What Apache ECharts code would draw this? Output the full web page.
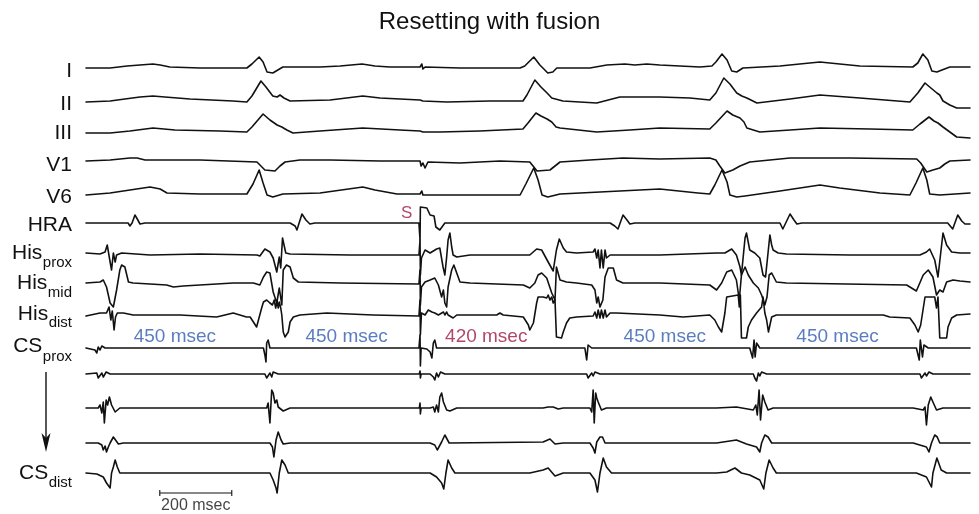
<!DOCTYPE html>
<html><head><meta charset="utf-8">
<script src="https://cdn.jsdelivr.net/npm/echarts@6/dist/echarts.min.js"></script>
<style>html,body{margin:0;padding:0;background:#fff}#c{width:979px;height:514px}</style>
</head><body><div id="c"></div>
<script>
// ---------------- DATA (time in msec, amplitude in arbitrary units, + = up) ----------------
const leadI = [[0,0],[67,0],[114,2],[150,3],[186,4],[206,3],[233,1],[317,0],[447,0],[461,4],[481,11],[492,6],[503,-4],[519,-5],[533,-2],[547,1],[650,1],[706,2],[767,4],[803,2],[844,1],[928,1],[933,4],[936,-1],[942,1],[1039,0],[1206,0],[1219,2],[1244,11],[1261,3],[1283,-5],[1297,-4],[1308,0],[1400,0],[1447,3],[1497,4],[1525,3],[1558,4],[1594,3],[1706,1],[1739,2],[1750,6],[1767,14],[1781,8],[1794,-3],[1808,-4],[1825,0],[1928,2],[1983,4],[2039,6],[2094,4],[2150,2],[2297,1],[2311,5],[2325,14],[2339,8],[2350,-3],[2364,-4],[2378,-2],[2400,1],[2456,1]];
const leadII = [[0,-1],[67,0],[108,2],[150,4],[186,5],[219,4],[289,2],[408,0],[447,-1],[461,5],[486,20],[500,14],[519,5],[531,4],[539,6],[550,3],[567,0],[678,1],[769,5],[817,3],[928,1],[933,3],[936,0],[1003,-1],[1122,0],[1214,0],[1225,6],[1247,21],[1264,14],[1281,8],[1294,3],[1325,0],[1419,-2],[1483,4],[1594,4],[1678,3],[1733,1],[1750,8],[1772,23],[1789,17],[1808,8],[1822,5],[1836,3],[1864,-2],[1956,2],[2039,6],[2150,3],[2289,-1],[2311,8],[2331,18],[2344,14],[2364,8],[2372,6],[2381,0],[2400,-4],[2419,-7],[2456,-7]];
const leadIII = [[0,-1],[67,-1],[122,1],[186,4],[247,2],[372,1],[447,0],[461,5],[492,18],[511,12],[531,7],[544,5],[558,2],[575,-1],[650,1],[769,4],[872,2],[928,1],[933,3],[936,0],[983,0],[1094,1],[1214,3],[1228,9],[1250,19],[1264,16],[1281,13],[1294,10],[1306,5],[1317,4],[1419,0],[1511,2],[1594,4],[1733,3],[1750,9],[1781,21],[1797,17],[1817,14],[1828,10],[1836,4],[1872,0],[1956,2],[2039,4],[2178,3],[2297,2],[2317,8],[2342,15],[2356,11],[2367,9],[2381,5],[2400,0],[2419,-5],[2456,-6]];
const leadV1 = [[0,-1],[67,0],[122,2],[142,2],[164,0],[317,0],[475,-2],[486,-6],[497,-10],[525,-11],[539,-6],[553,-2],[594,0],[678,0],[817,-1],[928,-1],[931,-6],[936,-3],[942,-8],[950,-2],[1039,-3],[1150,-1],[1233,-2],[1242,-6],[1253,-11],[1289,-10],[1303,-6],[1317,-2],[1400,0],[1492,2],[1594,1],[1733,2],[1750,0],[1761,-6],[1775,-13],[1797,-10],[1817,-6],[1844,-2],[1956,2],[2122,2],[2308,1],[2319,-3],[2336,-12],[2353,-10],[2372,-8],[2386,-4],[2400,-1],[2456,0]];
const leadV6 = [[0,-1],[67,1],[122,4],[178,7],[206,5],[225,1],[317,0],[447,0],[464,10],[481,24],[492,11],[503,-1],[519,-3],[547,0],[650,1],[769,7],[803,4],[864,0],[928,0],[933,3],[936,-1],[1039,-1],[1206,-1],[1222,10],[1244,26],[1256,14],[1267,-1],[1283,-3],[1317,0],[1428,2],[1594,5],[1700,1],[1733,0],[1747,9],[1767,24],[1781,12],[1789,-1],[1808,-3],[1831,-2],[1928,3],[2039,9],[2094,6],[2206,1],[2289,-1],[2306,11],[2325,26],[2336,14],[2344,0],[2372,-1],[2456,1]];
const hra = [[0,0],[117,0],[122,-3],[128,0],[136,8],[144,3],[150,-1],[164,0],[567,0],[581,-3],[586,-7],[600,9],[611,3],[622,-1],[636,0],[925,0],[928,-17],[929,16],[947,15],[956,8],[967,7],[972,-4],[983,-7],[997,0],[1456,0],[1469,-3],[1478,-6],[1492,8],[1503,3],[1511,-1],[1525,0],[1928,0],[1936,-6],[1956,9],[1967,3],[1975,-1],[1989,0],[2394,0],[2408,-6],[2422,8],[2433,2],[2442,-1],[2456,-1]];
const hisProx = [[0,1],[39,0],[53,2],[59,9],[67,-8],[71,-16],[76,1],[81,-8],[85,-1],[99,1],[178,-1],[317,0],[475,-1],[483,-2],[497,5],[511,2],[520,-4],[530,-18],[537,-3],[541,-14],[546,16],[551,17],[555,1],[567,0],[733,-1],[925,-1],[928,14],[929,-21],[932,-4],[942,4],[956,1],[974,5],[983,6],[992,-13],[997,-21],[1002,-3],[1006,14],[1011,21],[1016,7],[1020,-1],[1030,-3],[1067,-1],[1233,-1],[1252,5],[1266,4],[1284,-8],[1298,-17],[1307,4],[1315,15],[1326,6],[1335,2],[1363,1],[1409,2],[1414,5],[1419,-4],[1423,4],[1428,-14],[1432,4],[1437,-14],[1442,4],[1446,-4],[1456,-1],[1594,-1],[1752,1],[1775,1],[1794,5],[1807,-1],[1817,-13],[1821,-21],[1831,16],[1835,21],[1844,4],[1858,1],[1872,-4],[1881,-21],[1888,-23],[1900,19],[1905,9],[1909,4],[1923,1],[1946,0],[2122,-1],[2317,-1],[2335,2],[2344,5],[2358,-6],[2367,-23],[2381,21],[2391,9],[2405,2],[2428,1],[2456,1]];
const hisMid = [[0,1],[39,2],[48,4],[57,-3],[67,-19],[76,-23],[85,-6],[94,14],[99,19],[108,17],[118,2],[131,1],[224,-1],[243,-3],[270,-2],[409,1],[465,1],[483,-1],[493,7],[502,12],[511,11],[520,-8],[530,-19],[537,-4],[544,-21],[548,14],[557,19],[567,17],[576,6],[590,2],[706,1],[925,0],[928,14],[929,-21],[932,-3],[942,2],[956,4],[969,6],[979,-1],[988,-13],[993,-6],[997,-19],[1002,-23],[1006,-3],[1016,14],[1022,19],[1030,11],[1039,2],[1067,1],[1215,-1],[1233,-4],[1247,1],[1256,9],[1266,11],[1280,6],[1294,-9],[1303,-16],[1307,17],[1311,19],[1317,4],[1335,2],[1363,1],[1405,-1],[1414,-6],[1419,-19],[1423,-13],[1428,-23],[1436,-16],[1442,7],[1451,16],[1465,16],[1474,4],[1492,1],[1594,1],[1733,-1],[1752,-6],[1766,1],[1780,12],[1794,14],[1807,4],[1815,-16],[1821,9],[1831,17],[1840,9],[1854,1],[1868,-4],[1877,-11],[1886,-21],[1892,-13],[1898,9],[1905,11],[1918,2],[1946,1],[2280,-1],[2307,-7],[2326,9],[2340,14],[2353,7],[2363,-11],[2372,-6],[2381,-8],[2391,2],[2409,4],[2428,3],[2456,2]];
const hisDist = [[0,-1],[39,2],[57,2],[64,8],[69,-5],[73,4],[78,-15],[82,-2],[87,2],[104,2],[131,0],[261,0],[363,-2],[409,2],[446,-2],[456,-2],[465,-7],[474,-12],[488,7],[493,13],[502,15],[511,12],[518,10],[523,15],[527,7],[531,14],[534,7],[537,13],[541,7],[544,0],[548,-17],[553,-22],[557,-23],[562,-17],[567,-7],[576,-2],[594,0],[669,2],[733,1],[798,0],[925,-1],[928,15],[929,-20],[932,2],[942,0],[951,5],[961,3],[969,2],[979,0],[993,3],[997,0],[1002,3],[1006,0],[1011,2],[1020,-3],[1030,0],[1141,0],[1150,2],[1159,0],[1215,-2],[1229,-10],[1233,-15],[1243,-8],[1252,12],[1256,18],[1270,18],[1280,17],[1284,20],[1289,15],[1294,18],[1298,12],[1303,15],[1307,-22],[1312,-23],[1321,-23],[1326,-17],[1335,-8],[1344,-3],[1363,-2],[1409,-1],[1414,3],[1419,-3],[1423,5],[1428,-3],[1432,5],[1437,-3],[1442,5],[1446,-2],[1456,2],[1474,2],[1594,0],[1659,-2],[1733,0],[1747,-5],[1757,-12],[1766,-17],[1775,2],[1780,18],[1784,20],[1812,20],[1815,8],[1818,20],[1821,-23],[1835,-23],[1840,-12],[1849,-5],[1863,2],[1877,8],[1881,18],[1886,2],[1891,-5],[1896,-17],[1905,-2],[1918,0],[2215,0],[2233,-2],[2289,-3],[2303,-10],[2312,-17],[2319,-10],[2331,18],[2358,18],[2363,7],[2367,18],[2372,-23],[2391,-23],[2395,-12],[2405,-3],[2419,0],[2456,1]];
const csProx = [[0,0],[25,-2],[30,-5],[34,1],[39,-2],[44,2],[53,0],[493,0],[497,-7],[500,-14],[502,5],[506,8],[511,0],[530,0],[925,0],[928,13],[929,-18],[931,0],[947,-1],[956,-4],[961,-10],[965,5],[969,8],[974,0],[1386,0],[1391,-12],[1395,3],[1400,5],[1405,0],[1844,0],[1852,-10],[1856,8],[1859,-9],[1863,5],[1872,0],[2307,0],[2315,-12],[2318,8],[2324,-9],[2328,3],[2340,0],[2456,0]];
const cs2 = [[0,0],[30,1],[34,-4],[39,-6],[44,1],[48,-3],[56,2],[67,0],[497,0],[502,-4],[506,-6],[511,1],[516,-3],[520,2],[534,0],[926,0],[928,3],[929,-4],[931,0],[956,0],[965,-3],[969,-6],[974,1],[979,-3],[985,2],[997,0],[1391,0],[1395,-4],[1400,-6],[1405,1],[1409,-2],[1414,2],[1428,0],[1854,0],[1858,-4],[1863,-7],[1868,1],[1872,-2],[1877,2],[1891,0],[2317,0],[2321,-4],[2326,-6],[2331,1],[2335,-2],[2342,2],[2353,0],[2456,0]];
const cs3 = [[0,0],[34,0],[39,3],[44,-5],[48,6],[51,-15],[56,8],[60,3],[65,11],[71,3],[81,-4],[94,0],[502,0],[506,5],[511,-15],[516,18],[520,15],[525,5],[530,8],[534,1],[548,-3],[567,0],[926,0],[928,5],[929,-6],[931,0],[956,0],[965,1],[969,-4],[974,3],[979,-4],[983,11],[988,15],[993,6],[997,8],[1002,-2],[1011,-3],[1030,0],[1270,0],[1284,1],[1298,1],[1312,-1],[1326,0],[1400,0],[1405,-4],[1409,18],[1412,-15],[1416,15],[1419,10],[1423,6],[1432,-2],[1446,0],[1752,0],[1807,1],[1854,-2],[1861,3],[1865,-7],[1870,18],[1874,-12],[1880,13],[1886,6],[1895,-2],[1909,0],[2298,0],[2326,-2],[2331,1],[2335,-17],[2340,3],[2347,11],[2353,6],[2363,-2],[2381,0],[2456,0]];
const cs4 = [[0,0],[34,0],[44,-2],[48,-7],[53,-3],[57,-9],[62,-4],[67,0],[76,6],[81,4],[90,-1],[104,0],[511,0],[518,-4],[522,-14],[528,3],[534,11],[542,3],[548,-1],[567,0],[956,0],[969,-2],[976,-7],[981,-9],[988,1],[997,8],[1002,6],[1009,0],[1270,1],[1289,4],[1303,-1],[1326,0],[1400,0],[1409,-5],[1414,-10],[1419,1],[1428,6],[1435,6],[1442,0],[1752,0],[1807,3],[1835,-1],[1863,-4],[1872,-9],[1877,0],[1886,8],[1895,6],[1905,0],[2298,0],[2335,-4],[2342,-9],[2349,0],[2358,8],[2365,6],[2372,0],[2456,0]];
const csDist = [[0,0],[30,-1],[48,-4],[57,-10],[67,-15],[71,0],[76,6],[81,13],[87,6],[94,0],[511,0],[520,-7],[528,-15],[531,-20],[537,0],[544,13],[553,8],[562,0],[956,0],[974,-4],[988,-10],[994,-16],[1000,0],[1006,13],[1016,5],[1025,0],[1233,0],[1270,3],[1284,5],[1303,-3],[1326,0],[1400,0],[1414,-7],[1421,-19],[1428,0],[1437,15],[1446,6],[1460,0],[1752,0],[1780,1],[1803,5],[1821,0],[1844,-2],[1872,-7],[1883,-16],[1889,0],[1898,13],[1909,5],[1918,0],[2307,0],[2335,-4],[2349,-14],[2353,0],[2364,15],[2376,3],[2391,0],[2456,0]];

const channelNames = ['I','II','III','V1','V6','HRA','His','His','His','CS','','','','CS'];
const channelSubs  = ['','','','','','','prox','mid','dist','prox','','','','dist'];
const intervalTexts = ['450 msec','450 msec','420 msec','450 msec','450 msec'];
const intervalCenters = [247, 724, 1112, 1608, 2088];   // msec
const intervalIsReset = [false, false, true, false, false];
const stimLabel = 'S';
const stimTime = 891;
const scaleBarStart = 205, scaleBarLength = 200, scaleBarText = '200 msec';
const titleText = 'Resetting with fusion';

// ---------------- LAYOUT / STYLE ----------------
const channels = [leadI, leadII, leadIII, leadV1, leadV6, hra, hisProx, hisMid, hisDist, csProx, cs2, cs3, cs4, csDist];
const channelOffset = [68, 101, 132, 160, 194, 223, 254, 284, 315, 348, 374, 408, 443, 473];
const labelMainY = [71, 104, 133, 165, 197, 225, 253, 283, 314, 346, null, null, null, 473];
const labelSubY  = [null,null,null,null,null,null, 263, 293, 323, 357, null,null,null, 483];
const labelRight = 72;
const intervalLabelY = 337, stimLabelY = 213, scaleBarY = 493, scaleTextY = 506;
const FONT = '"Liberation Sans", Arial, Helvetica, sans-serif';
const INK = '#111111', BLUE = '#2f5cb0', RED = '#9e1840';

const mctx = document.createElement('canvas').getContext('2d');
function textW(t, size){ mctx.font = size + 'px ' + FONT; return mctx.measureText(t).width; }

const chart = echarts.init(document.getElementById('c'), null, {renderer:'canvas'});

const series = channels.map((pts, i) => ({
  type: 'line', name: channelNames[i] + channelSubs[i],
  data: pts.map(p => [p[0], channelOffset[i] - p[1]]),
  showSymbol: false, symbol: 'none', silent: true, animation: false,
  lineStyle: { color: INK, width: 1.6, join: 'round', cap: 'round' }
}));

// scale bar
series.push({ type:'line', data:[[scaleBarStart, scaleBarY],[scaleBarStart+scaleBarLength, scaleBarY]],
  showSymbol:false, symbol:'none', silent:true, animation:false, lineStyle:{color:INK, width:1.1} });
[scaleBarStart, scaleBarStart+scaleBarLength].forEach(t => series.push({ type:'line',
  data:[[t, scaleBarY-3],[t, scaleBarY+3]], showSymbol:false, symbol:'none', silent:true, animation:false,
  lineStyle:{color:INK, width:1.1} }));

// interval + stim labels
series.push({ type:'scatter', symbolSize:0, silent:true, animation:false,
  data: intervalCenters.map((t,i) => ({ value:[t, intervalLabelY],
    label:{ show:true, position:'inside', formatter:intervalTexts[i], fontSize:19, fontFamily:FONT,
      color: intervalIsReset[i] ? RED : BLUE } })).concat([
    { value:[stimTime, stimLabelY], label:{ show:true, position:'inside', formatter:stimLabel, fontSize:17, fontFamily:FONT, color:RED } },
    { value:[scaleBarStart + scaleBarLength/2, scaleTextY], label:{ show:true, position:'inside', formatter:scaleBarText, fontSize:16, fontFamily:FONT, color:INK } }
  ])
});

// channel labels
const graphics = [];
channelNames.forEach((name, i) => {
  if (!name) return;
  const sub = channelSubs[i];
  if (!sub) {
    graphics.push({ type:'text', x: labelRight, y: labelMainY[i], style:{ text:name, fontSize:21, fontFamily:FONT, fill:INK, textAlign:'right', textVerticalAlign:'middle' } });
  } else {
    const sw = textW(sub, 15);
    graphics.push({ type:'text', x: labelRight, y: labelSubY[i], style:{ text:sub, fontSize:15, fontFamily:FONT, fill:INK, textAlign:'right', textVerticalAlign:'middle' } });
    graphics.push({ type:'text', x: labelRight - sw - 0.5, y: labelMainY[i], style:{ text:name, fontSize:21, fontFamily:FONT, fill:INK, textAlign:'right', textVerticalAlign:'middle' } });
  }
});
// arrow from CS prox to CS dist
graphics.push({ type:'line', shape:{x1:46, y1:372, x2:46, y2:440}, style:{stroke:INK, lineWidth:1.4} });
graphics.push({ type:'polygon', shape:{ points:[[46,452],[41.5,433],[46,438],[50.5,433]] }, style:{ fill:INK } });

chart.setOption({
  animation: false,
  backgroundColor: '#ffffff',
  title: { text: titleText, left: 'center', top: 5, textStyle:{ fontSize:24, fontWeight:'normal', color:INK, fontFamily:FONT } },
  grid: { left: 86, right: 9, top: 0, bottom: 0, containLabel: false },
  xAxis: { type:'value', min:0, max:2456, show:false },
  yAxis: { type:'value', min:0, max:514, inverse:true, show:false },
  series: series,
  graphic: graphics
});
</script>
</body></html>
